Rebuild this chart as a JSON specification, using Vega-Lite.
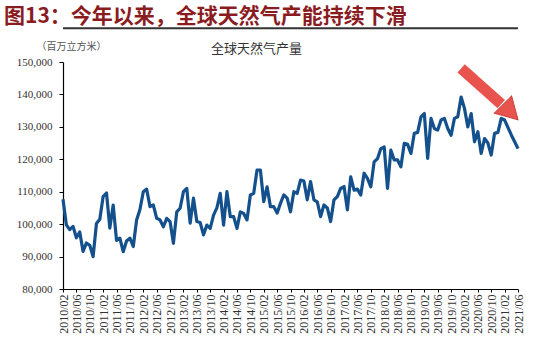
{
  "$schema": "https://vega.github.io/schema/vega-lite/v6.json",
  "autosize": "none",
  "width": 455,
  "height": 227,
  "padding": {"left": 63, "top": 62, "right": 29, "bottom": 54},
  "background": "white",
  "config": {"view": {"stroke": null}, "font": "Liberation Serif", "axisY": {"tickCount": 8, "labelOverlap": false}},
  "title": {
    "text": "图13：今年以来，全球天然气产能持续下滑",
    "anchor": "start",
    "frame": "group",
    "dx": -59,
    "fontSize": 21,
    "font": "Noto Sans CJK SC",
    "fontWeight": "bold",
    "color": "#8A1C1F",
    "offset": 0
  },
  "datasets": {
    "gas": [
      {"month": "2010/02", "value": 107700}, {"month": "2010/03", "value": 99800}, {"month": "2010/04", "value": 98300}, {"month": "2010/05", "value": 99300},
      {"month": "2010/06", "value": 95800}, {"month": "2010/07", "value": 97600}, {"month": "2010/08", "value": 91600}, {"month": "2010/09", "value": 94200},
      {"month": "2010/10", "value": 93500}, {"month": "2010/11", "value": 90000}, {"month": "2010/12", "value": 100200},
      {"month": "2011/01", "value": 101500}, {"month": "2011/02", "value": 108500}, {"month": "2011/03", "value": 109600}, {"month": "2011/04", "value": 98800},
      {"month": "2011/05", "value": 105900}, {"month": "2011/06", "value": 95000}, {"month": "2011/07", "value": 95700}, {"month": "2011/08", "value": 91500},
      {"month": "2011/09", "value": 94800}, {"month": "2011/10", "value": 95700}, {"month": "2011/11", "value": 93100}, {"month": "2011/12", "value": 101300},
      {"month": "2012/01", "value": 104500}, {"month": "2012/02", "value": 110000}, {"month": "2012/03", "value": 110800}, {"month": "2012/04", "value": 105400},
      {"month": "2012/05", "value": 105900}, {"month": "2012/06", "value": 101800}, {"month": "2012/07", "value": 101300}, {"month": "2012/08", "value": 99200},
      {"month": "2012/09", "value": 101800}, {"month": "2012/10", "value": 100800}, {"month": "2012/11", "value": 94100}, {"month": "2012/12", "value": 103800},
      {"month": "2013/01", "value": 104900}, {"month": "2013/02", "value": 110000}, {"month": "2013/03", "value": 111000}, {"month": "2013/04", "value": 100300},
      {"month": "2013/05", "value": 108000}, {"month": "2013/06", "value": 100800}, {"month": "2013/07", "value": 100500}, {"month": "2013/08", "value": 96700},
      {"month": "2013/09", "value": 99700}, {"month": "2013/10", "value": 98700}, {"month": "2013/11", "value": 102800}, {"month": "2013/12", "value": 105000},
      {"month": "2014/01", "value": 109500}, {"month": "2014/02", "value": 99700}, {"month": "2014/03", "value": 110000}, {"month": "2014/04", "value": 102300},
      {"month": "2014/05", "value": 102300}, {"month": "2014/06", "value": 98700}, {"month": "2014/07", "value": 103800}, {"month": "2014/08", "value": 103300},
      {"month": "2014/09", "value": 101300}, {"month": "2014/10", "value": 109000}, {"month": "2014/11", "value": 109500}, {"month": "2014/12", "value": 116700},
      {"month": "2015/01", "value": 116700}, {"month": "2015/02", "value": 106900}, {"month": "2015/03", "value": 111500}, {"month": "2015/04", "value": 105400},
      {"month": "2015/05", "value": 105400}, {"month": "2015/06", "value": 103400}, {"month": "2015/07", "value": 106400}, {"month": "2015/08", "value": 109000},
      {"month": "2015/09", "value": 108000}, {"month": "2015/10", "value": 103800}, {"month": "2015/11", "value": 110000}, {"month": "2015/12", "value": 109500},
      {"month": "2016/01", "value": 113600}, {"month": "2016/02", "value": 113300}, {"month": "2016/03", "value": 107500}, {"month": "2016/04", "value": 113100},
      {"month": "2016/05", "value": 107500}, {"month": "2016/06", "value": 106900}, {"month": "2016/07", "value": 102300}, {"month": "2016/08", "value": 105900},
      {"month": "2016/09", "value": 105000}, {"month": "2016/10", "value": 100800}, {"month": "2016/11", "value": 107500}, {"month": "2016/12", "value": 108500},
      {"month": "2017/01", "value": 111000}, {"month": "2017/02", "value": 111600}, {"month": "2017/03", "value": 104400}, {"month": "2017/04", "value": 114600},
      {"month": "2017/05", "value": 110500}, {"month": "2017/06", "value": 110800}, {"month": "2017/07", "value": 109000}, {"month": "2017/08", "value": 115700},
      {"month": "2017/09", "value": 114100}, {"month": "2017/10", "value": 111500}, {"month": "2017/11", "value": 119200}, {"month": "2017/12", "value": 120200},
      {"month": "2018/01", "value": 123300}, {"month": "2018/02", "value": 123800}, {"month": "2018/03", "value": 111000}, {"month": "2018/04", "value": 122800},
      {"month": "2018/05", "value": 119800}, {"month": "2018/06", "value": 119800}, {"month": "2018/07", "value": 117700}, {"month": "2018/08", "value": 124900},
      {"month": "2018/09", "value": 124600}, {"month": "2018/10", "value": 121800}, {"month": "2018/11", "value": 128000}, {"month": "2018/12", "value": 128300},
      {"month": "2019/01", "value": 133100}, {"month": "2019/02", "value": 134100}, {"month": "2019/03", "value": 120300}, {"month": "2019/04", "value": 132600},
      {"month": "2019/05", "value": 129500}, {"month": "2019/06", "value": 129000}, {"month": "2019/07", "value": 132100}, {"month": "2019/08", "value": 132600},
      {"month": "2019/09", "value": 129500}, {"month": "2019/10", "value": 127400}, {"month": "2019/11", "value": 132600}, {"month": "2019/12", "value": 133100},
      {"month": "2020/01", "value": 139200}, {"month": "2020/02", "value": 135700}, {"month": "2020/03", "value": 130000}, {"month": "2020/04", "value": 134100},
      {"month": "2020/05", "value": 125400}, {"month": "2020/06", "value": 128500}, {"month": "2020/07", "value": 121800}, {"month": "2020/08", "value": 126400},
      {"month": "2020/09", "value": 125000}, {"month": "2020/10", "value": 121300}, {"month": "2020/11", "value": 128000}, {"month": "2020/12", "value": 128300},
      {"month": "2021/01", "value": 132600}, {"month": "2021/02", "value": 132100}, {"month": "2021/03", "value": 129800}, {"month": "2021/04", "value": 127500},
      {"month": "2021/05", "value": 125400}, {"month": "2021/06", "value": 123300}
    ],
    "arrow": [{"month": "2020/01", "month2": "2021/01", "value": 148000, "value2": 137000}],
    "arrowhead": [{"month": "2021/03", "value": 135300}],
    "titleRule": [{"value": 160400}]
  },
  "layer": [
    {
      "data": {"name": "gas"},
      "mark": {"type": "line", "color": "#14508C", "strokeWidth": 3.2, "strokeJoin": "round"},
      "encoding": {
        "x": {
          "field": "month",
          "type": "ordinal",
          "sort": null,
          "scale": {"type": "point", "padding": 0},
          "axis": {
            "values": ["2010/02","2010/06","2010/10","2011/02","2011/06","2011/10","2012/02","2012/06","2012/10","2013/02","2013/06","2013/10","2014/02","2014/06","2014/10","2015/02","2015/06","2015/10","2016/02","2016/06","2016/10","2017/02","2017/06","2017/10","2018/02","2018/06","2018/10","2019/02","2019/06","2019/10","2020/02","2020/06","2020/10","2021/02","2021/06"],
            "labelAngle": -90,
            "labelFont": "Liberation Serif",
            "labelFontSize": 12,
            "labelColor": "#333",
            "labelPadding": 2,
            "labelOverlap": false,
            "tickSize": 3,
            "tickColor": "#000",
            "domainColor": "#000",
            "domainWidth": 1.2,
            "grid": false,
            "title": "全球天然气产量",
            "titleX": 193,
            "titleY": -237,
            "titleAlign": "center",
            "titleBaseline": "alphabetic",
            "titleFont": "Noto Sans CJK SC",
            "titleFontSize": 13,
            "titleFontWeight": "normal",
            "titleColor": "#333"
          }
        },
        "y": {
          "field": "value",
          "type": "quantitative",
          "scale": {"domain": [80000, 150000], "zero": false, "nice": false},
          "axis": {
            "values": [80000, 90000, 100000, 110000, 120000, 130000, 140000, 150000],
            "tickCount": 8,
            "format": ",d",
            "labelFont": "Liberation Serif",
            "labelFontSize": 11,
            "labelColor": "#333",
            "labelPadding": 7,
            "labelOverlap": false,
            "tickSize": 4,
            "tickColor": "#000",
            "domainColor": "#000",
            "domainWidth": 1.2,
            "grid": false,
            "title": "（百万立方米）",
            "titleAngle": 0,
            "titleX": 8,
            "titleY": -13,
            "titleAlign": "center",
            "titleBaseline": "alphabetic",
            "titleFont": "Noto Sans CJK SC",
            "titleFontSize": 10,
            "titleFontWeight": "normal",
            "titleColor": "#555"
          }
        }
      }
    },
    {
      "data": {"name": "titleRule"},
      "mark": {"type": "rule", "color": "#333", "strokeWidth": 2, "clip": false},
      "encoding": {"y": {"field": "value", "type": "quantitative"}}
    },
    {
      "data": {"name": "arrow"},
      "mark": {"type": "rule", "color": "#E8534D", "strokeWidth": 11, "strokeCap": "butt"},
      "encoding": {
        "x": {"field": "month", "type": "ordinal"},
        "x2": {"field": "month2"},
        "y": {"field": "value", "type": "quantitative"},
        "y2": {"field": "value2"}
      }
    },
    {
      "data": {"name": "arrowhead"},
      "mark": {"type": "point", "shape": "triangle", "angle": 135, "size": 600, "filled": true, "color": "#E8534D", "opacity": 1, "stroke": "#C8433E", "strokeWidth": 1},
      "encoding": {
        "x": {"field": "month", "type": "ordinal"},
        "y": {"field": "value", "type": "quantitative"}
      }
    }
  ]
}
